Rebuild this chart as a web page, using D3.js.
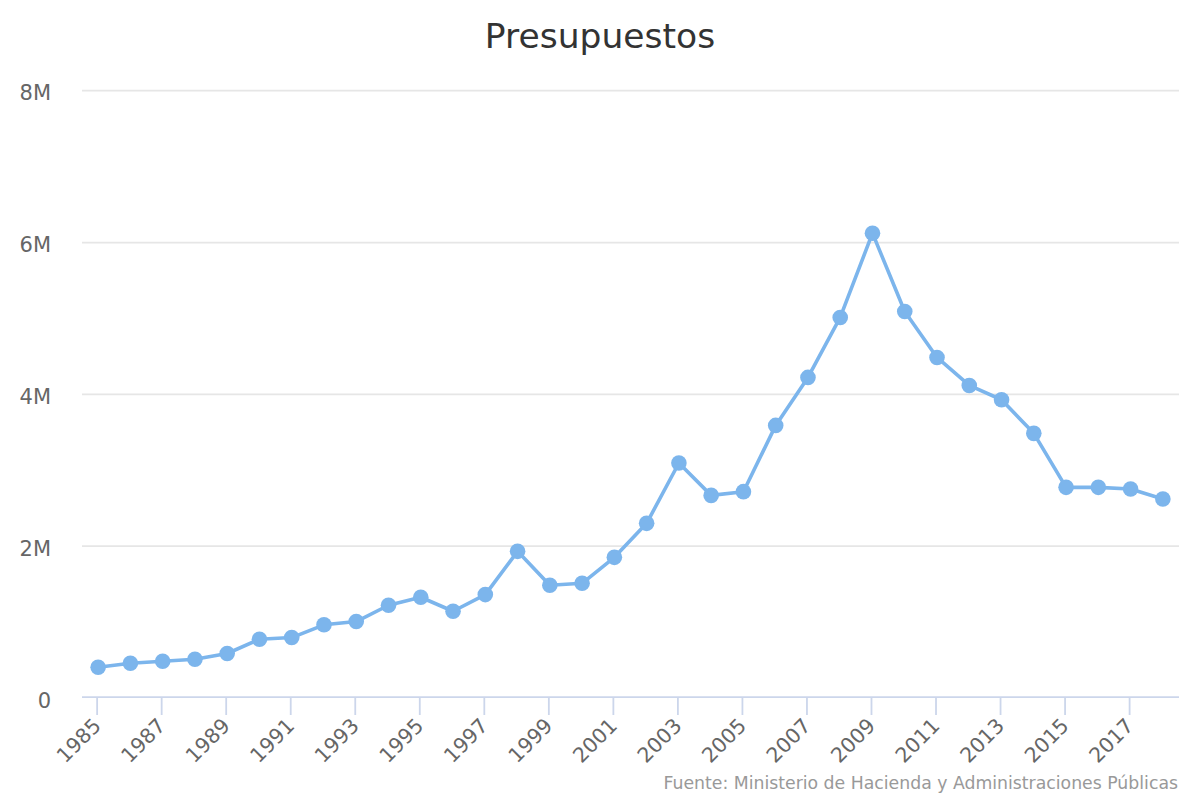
<!DOCTYPE html>
<html>
<head>
<meta charset="utf-8">
<script src="https://cdn.jsdelivr.net/npm/d3@7/dist/d3.min.js"></script>
<style>
  html, body { margin: 0; padding: 0; background: #fff; }
  svg { display: block; font-family: "DejaVu Sans", "Lucida Grande", sans-serif; }
</style>
</head>
<body>
<svg id="chart" width="1200" height="800"></svg>
<script>
const years = [1985,1986,1987,1988,1989,1990,1991,1992,1993,1994,1995,1996,1997,1998,1999,2000,2001,2002,2003,2004,2005,2006,2007,2008,2009,2010,2011,2012,2013,2014,2015,2016,2017,2018];
const presupuestos = [405000,458000,484000,511000,586000,774000,796000,964000,1007000,1222000,1327000,1143000,1362000,1932000,1485000,1511000,1853000,2301000,3096000,2669000,2718000,3591000,4223000,5013000,6123000,5091000,4486000,4117000,3929000,3486000,2775000,2775000,2754000,2622000];
const yTicks = [0, 2000000, 4000000, 6000000, 8000000];
const yTickLabels = ["0", "2M", "4M", "6M", "8M"];
const xTickYears = years.filter((d, i) => i % 2 === 0);
const chartTitle = "Presupuestos";
const credit = "Fuente: Ministerio de Hacienda y Administraciones Públicas";

const svg = d3.select("#chart");
const plotLeft = 82, plotRight = 1179, plotTop = 90.7, plotBottom = 698;

const x = d3.scalePoint().domain(years).range([plotLeft, plotRight]).padding(0.5);
const y = d3.scaleLinear().domain([0, 8000000]).range([plotBottom, plotTop]);

// gridlines
svg.append("g").selectAll("line").data(yTicks.slice(1)).join("line")
  .attr("x1", plotLeft).attr("x2", plotRight)
  .attr("y1", d => y(d)).attr("y2", d => y(d))
  .attr("stroke", "#e6e6e6").attr("stroke-width", 1.8);

// y labels
svg.append("g").selectAll("text").data(yTicks).join("text")
  .attr("x", 51).attr("y", d => y(d) + 9.5)
  .attr("text-anchor", "end")
  .attr("fill", "#666").attr("font-size", 21)
  .text((d, i) => yTickLabels[i]);

// x axis line
svg.append("line")
  .attr("x1", plotLeft).attr("x2", plotRight)
  .attr("y1", plotBottom - 0.8).attr("y2", plotBottom - 0.8)
  .attr("stroke", "#ccd6eb").attr("stroke-width", 1.8);

// ticks
svg.append("g").selectAll("line").data(xTickYears).join("line")
  .attr("x1", d => x(d) - 1).attr("x2", d => x(d) - 1)
  .attr("y1", plotBottom - 0.8).attr("y2", plotBottom + 17)
  .attr("stroke", "#ccd6eb").attr("stroke-width", 1.8);

// x labels
svg.append("g").selectAll("text").data(xTickYears).join("text")
  .attr("transform", d => `translate(${x(d) + 4},${plotBottom + 29}) rotate(-45)`)
  .attr("text-anchor", "end")
  .attr("fill", "#666").attr("font-size", 20.5)
  .text(d => d);

// line
const line = d3.line().x((d, i) => x(years[i])).y(d => y(d));
svg.append("path").datum(presupuestos)
  .attr("d", line)
  .attr("fill", "none").attr("stroke", "#7cb5ec")
  .attr("stroke-width", 3.6).attr("stroke-linejoin", "round").attr("stroke-linecap", "round");

// markers
svg.append("g").selectAll("circle").data(presupuestos).join("circle")
  .attr("cx", (d, i) => x(years[i])).attr("cy", d => y(d))
  .attr("r", 7.8).attr("fill", "#7cb5ec");

// title
svg.append("text")
  .attr("x", 600).attr("y", 47.5).attr("text-anchor", "middle")
  .attr("fill", "#333").attr("font-size", 34.5)
  .text(chartTitle);

// credit
svg.append("text")
  .attr("x", 1178).attr("y", 789).attr("text-anchor", "end")
  .attr("fill", "#999").attr("font-size", 17.3)
  .text(credit);
</script>
</body>
</html>
